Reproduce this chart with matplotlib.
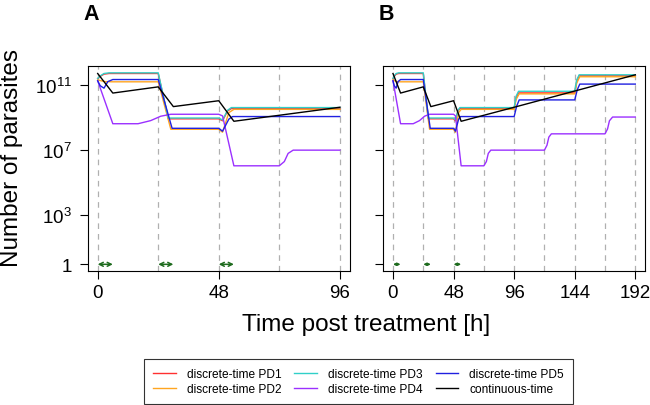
import numpy as np
import matplotlib
matplotlib.use("Agg")
import matplotlib.pyplot as plt

plt.rcParams['font.family'] = ['Liberation Sans', 'DejaVu Sans']
plt.rcParams['mathtext.fontset'] = 'custom'
plt.rcParams['mathtext.rm'] = 'Liberation Sans'
plt.rcParams['mathtext.it'] = 'Liberation Sans:italic'

# node times [h] and log10(number of parasites)
t_pd1 = [0, 1, 2.5, 4.5, 24, 28, 48, 49.5, 51.5, 53, 96, 97.5, 99.5, 144, 145.5, 147.5, 192]
v_pd1 = [11.38, 11.52, 11.66, 11.70, 11.70, 8.92, 8.92, 8.80, 9.40, 9.55, 9.55, 10.2, 10.51, 10.51, 11.2, 11.56, 11.56]

t_pd2 = [0, 3, 6, 24, 29, 48, 49.5, 52, 54, 96, 97.5, 100, 144, 145.5, 148, 192]
v_pd2 = [11.30, 11.20, 11.19, 11.19, 8.28, 8.28, 8.10, 9.30, 9.50, 9.50, 10.1, 10.45, 10.45, 11.1, 11.50, 11.50]

t_pd3 = [0, 1, 2.5, 4.5, 24, 28, 48, 49.5, 51.5, 53, 96, 97.5, 99.5, 144, 145.5, 147.5, 192]
v_pd3 = [11.40, 11.55, 11.70, 11.74, 11.74, 8.97, 8.97, 8.85, 9.45, 9.61, 9.61, 10.3, 10.61, 10.61, 11.3, 11.62, 11.62]

t_pd4 = [0, 6, 16, 21, 25, 29, 48, 49.5, 54, 72, 74, 75.5, 77.5, 96, 120, 122, 123.5, 125.5,
         168, 170, 171.5, 174, 192]
v_pd4 = [11.25, 8.62, 8.62, 8.81, 9.08, 9.20, 9.20, 9.10, 6.04, 6.04, 6.30, 6.80, 7.00, 7.00, 7.00, 7.30, 7.80, 8.00,
         8.00, 8.30, 8.80, 9.03, 9.03]

t_pd5 = [0, 1, 2.5, 4, 6, 24, 29.5, 48, 49.5, 52, 53.5, 96, 98, 100, 144, 146, 148, 192]
v_pd5 = [11.25, 10.95, 10.80, 11.20, 11.33, 11.33, 8.34, 8.34, 8.16, 8.90, 9.06, 9.06, 9.70, 10.08, 10.08, 10.7, 11.05, 11.05]

t_cont = [0, 6, 24, 30, 48, 54, 96, 192]
v_cont = [11.70, 10.50, 10.88, 9.67, 10.03, 8.77, 9.63, 11.62]

series = [
    ("discrete-time PD1", t_pd1, v_pd1, "#FF3030"),
    ("discrete-time PD2", t_pd2, v_pd2, "#FFA520"),
    ("discrete-time PD3", t_pd3, v_pd3, "#30D0C8"),
    ("discrete-time PD4", t_pd4, v_pd4, "#9B30FF"),
    ("discrete-time PD5", t_pd5, v_pd5, "#2020E0"),
    ("continuous-time", t_cont, v_cont, "black"),
]

dose_starts = [0, 24, 48]
dose_len = 6
panels = [("A", 96, [0, 48, 96]), ("B", 192, [0, 48, 96, 144, 192])]
ytick_vals = [1, 1e3, 1e7, 1e11]
ytick_labels = ["1", "$10^3$", "$10^7$", "$10^{11}$"]

fig = plt.figure(figsize=(6.5, 4.06), dpi=100)
W, H = 650, 406
boxes = [(88, 349.5), (383.3, 645)]
top_px, bot_px = 66.5, 272

for (name, tmax, xt), (x0, x1) in zip(panels, boxes):
    ax = fig.add_axes([x0 / W, 1 - bot_px / H, (x1 - x0) / W, (bot_px - top_px) / H])
    for g in np.arange(0, tmax + 1, 24):
        ax.axvline(g, color="#B0B0B0", lw=0.9, ls=(0, (4.5, 4)), zorder=1)
    lines = []
    for lab, t, v, c in series:
        t = np.asarray(t, float)
        v = np.asarray(v, float)
        keep = t <= tmax
        ln, = ax.plot(t[keep], 10 ** v[keep], color=c, lw=1.0, label=lab, zorder=3)
        lines.append(ln)
    ms = 7 if name == "A" else 3.5
    for s in dose_starts:
        ax.annotate("", xy=(s + dose_len, 1), xytext=(s, 1),
                    arrowprops=dict(arrowstyle="<->", color="#1E6B1E", lw=1.1,
                                    mutation_scale=ms, shrinkA=0, shrinkB=0), zorder=4)
    ax.set_yscale("log")
    ax.set_xlim(-0.04 * tmax, 1.04 * tmax)
    ax.set_ylim(10 ** -0.41, 10 ** 12.19)
    ax.set_xticks(xt)
    ax.set_xticklabels([str(x) for x in xt])
    ax.set_yticks(ytick_vals)
    ax.minorticks_off()
    if name == "A":
        ax.set_yticklabels(ytick_labels)
    else:
        ax.set_yticklabels([])
    ax.tick_params(axis="both", labelsize=13.5, length=5.5, width=0.8, direction="out")
    ax.tick_params(axis="x", pad=4)
    ax.tick_params(axis="y", pad=6)
    for sp in ax.spines.values():
        sp.set_linewidth(0.8)
    fig.text((x0 - 5) / W, 1 - 20 / H, name, fontsize=15.5, fontweight="bold", ha="left", va="baseline")

fig.text(12 / W, 1 - 158 / H, "Number of parasites", rotation=90, fontsize=17.5, ha="center", va="center")
fig.text(366 / W, 1 - 325 / H, "Time post treatment [h]", fontsize=17.5, ha="center", va="center")

leg = fig.legend(lines, [s[0] for s in series],
                 loc="center", bbox_to_anchor=(358.5 / W, 1 - 382.5 / H), ncol=3, fontsize=8.6,
                 frameon=True, fancybox=False, edgecolor="black", handlelength=1.9,
                 handletextpad=0.9, columnspacing=1.1, labelspacing=0.25, borderpad=0.75)
leg.get_frame().set_linewidth(0.8)

fig.savefig("out.png", dpi=100)
